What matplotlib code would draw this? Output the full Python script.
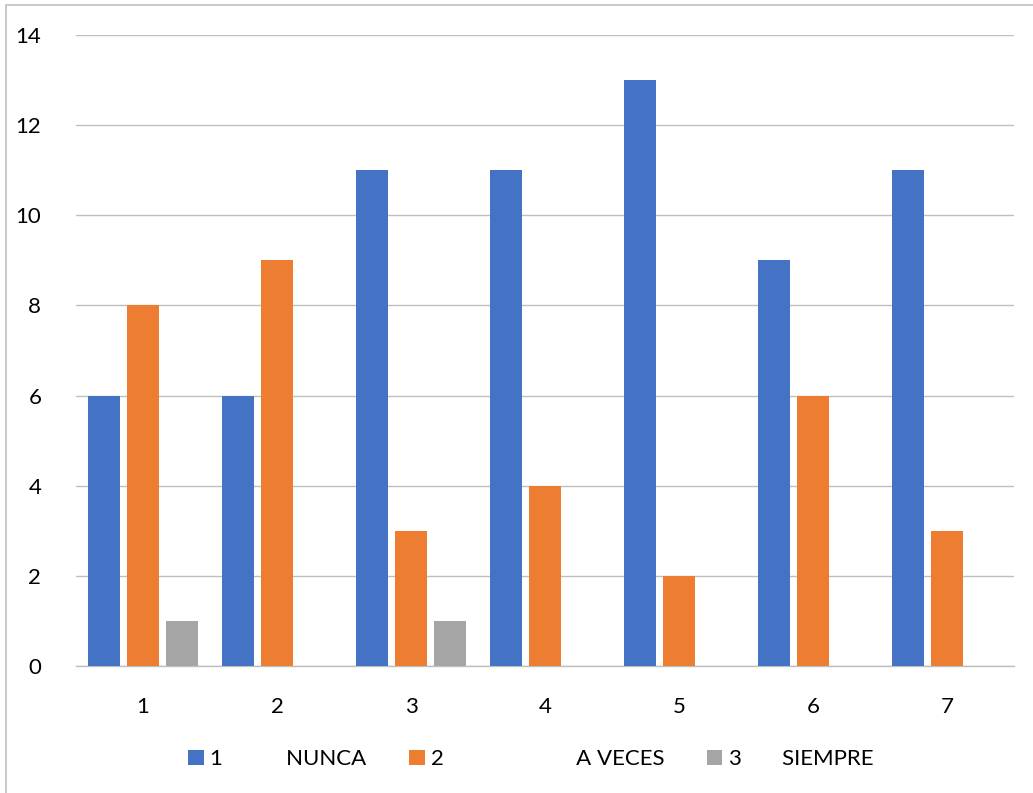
import matplotlib
matplotlib.use("Agg")
import matplotlib.pyplot as plt
import numpy as np
from matplotlib.patches import Rectangle

categories = ["1", "2", "3", "4", "5", "6", "7"]
nunca = [6, 6, 11, 11, 13, 9, 11]
a_veces = [8, 9, 3, 4, 2, 6, 3]
siempre = [1, 0, 1, 0, 0, 0, 0]
series_labels = ["1           NUNCA", "2                       A VECES", "3       SIEMPRE"]
colors = ["#4472C4", "#ED7D31", "#A5A5A5"]
yticks = [0, 2, 4, 6, 8, 10, 12, 14]

plt.rcParams["font.family"] = ["Lato", "DejaVu Sans"]

fig = plt.figure(figsize=(10.33, 7.93), dpi=100)
ax = fig.add_axes([0.0736, 0.160, 0.9080, 0.796])

x = np.arange(len(categories))
width = 0.239
step = 0.291
for i, (vals, col, lab) in enumerate(zip([nunca, a_veces, siempre], colors, series_labels)):
    ax.bar(x + (i - 1) * step, vals, width=width, color=col, label=lab, zorder=3)

ax.set_xlim(-0.5, len(categories) - 0.5)
ax.set_ylim(0, 14)
ax.set_yticks(yticks)
ax.set_yticklabels([str(t) for t in yticks])
ax.set_xticks(x)
ax.set_xticklabels(categories)
ax.tick_params(axis="both", length=0, labelsize=16, colors="#000000")
ax.tick_params(axis="y", pad=25)
ax.tick_params(axis="x", pad=22)
ax.grid(axis="y", color="#BFBFBF", linewidth=1.0, zorder=0)
for s in ["top", "right", "left"]:
    ax.spines[s].set_visible(False)
ax.spines["bottom"].set_color("#BFBFBF")
ax.spines["bottom"].set_linewidth(1.0)

leg = ax.legend(loc="upper center", bbox_to_anchor=(0.485, -0.10), ncol=3, frameon=False,
                fontsize=16, handlelength=0.7, handleheight=0.7, handletextpad=0.3,
                columnspacing=1.9)

# outer chart border
fig.add_artist(Rectangle((6 / 1033, -0.1), 1.2, (793 - 5) / 793 + 0.1, transform=fig.transFigure,
                         fill=False, edgecolor="#BFBFBF", linewidth=1.2))

fig.savefig("out.png", dpi=100)
